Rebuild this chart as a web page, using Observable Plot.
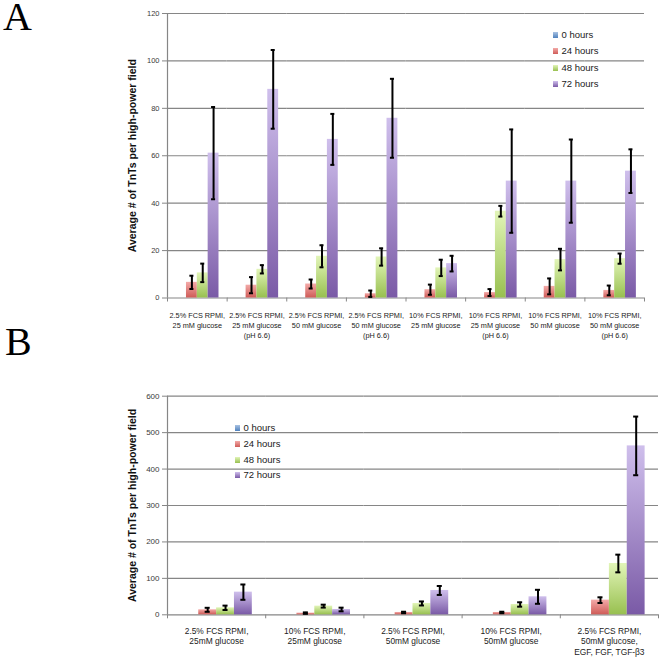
<!DOCTYPE html>
<html><head><meta charset="utf-8">
<script src="https://cdn.jsdelivr.net/npm/d3@7"></script>
<script src="https://cdn.jsdelivr.net/npm/@observablehq/plot@0.6"></script>
<style>
body{margin:0;background:#fff;font-family:"Liberation Sans",Arial,sans-serif}
#root{position:relative;width:662px;height:658px;overflow:hidden;background:#fff}
.panel{position:absolute;left:0}
.letter{position:absolute;z-index:5;font-family:"Liberation Serif","Times New Roman",serif;font-size:40px;line-height:30px;color:#000}
.legend{position:absolute;z-index:5;font-size:9.5px;color:#1a1a1a}
.legend .row{position:absolute;left:0;white-space:nowrap;height:12px;line-height:12px}
.legend .sw{position:absolute;left:0;top:3px;width:5px;height:6px}
.legend .lbl{position:absolute;left:8.5px;top:0}
</style></head><body>
<svg width="0" height="0" style="position:absolute">
  <defs>
    <linearGradient id="g0" x1="0" y1="0" x2="0" y2="1"><stop offset="0" stop-color="#a9c2e2"/><stop offset="1" stop-color="#4f81bd"/></linearGradient>
    <linearGradient id="g1" x1="0" y1="0" x2="0" y2="1"><stop offset="0" stop-color="#f3aaa8"/><stop offset="1" stop-color="#cf5c58"/></linearGradient>
    <linearGradient id="g2" x1="0" y1="0" x2="0" y2="1"><stop offset="0" stop-color="#e2f5b8"/><stop offset="1" stop-color="#98c050"/></linearGradient>
    <linearGradient id="g3" x1="0" y1="0" x2="0" y2="1"><stop offset="0" stop-color="#cfbfec"/><stop offset="1" stop-color="#7a5aa6"/></linearGradient>
  </defs>
</svg>
<div id="root">
  <div id="pA" class="panel" style="top:0"></div>
  <div id="pB" class="panel" style="top:345px"></div>
  <div class="letter" style="left:3px;top:1.5px">A</div>
  <div class="letter" style="left:5px;top:326.5px">B</div>
  <div id="legA" class="legend" style="left:553px;top:29px"></div>
  <div id="legB" class="legend" style="left:235px;top:422px"></div>
</div>
<script>
const series = ["0 hours", "24 hours", "48 hours", "72 hours"];
const yTitle = "Average # of TnTs per high-power field";

// Panel A
const categoriesA = [
  "2.5% FCS RPMI,\n25 mM glucose",
  "2.5% FCS RPMI,\n25 mM glucose\n(pH 6.6)",
  "2.5% FCS RPMI,\n50 mM glucose",
  "2.5% FCS RPMI,\n50 mM glucose\n(pH 6.6)",
  "10% FCS RPMI,\n25 mM glucose",
  "10% FCS RPMI,\n25 mM glucose\n(pH 6.6)",
  "10% FCS RPMI,\n50 mM glucose",
  "10% FCS RPMI,\n50 mM glucose\n(pH 6.6)"
];
const ticksA = [0, 20, 40, 60, 80, 100, 120];
const a0h  = [0, 0, 0, 0, 0, 0, 0, 0];
const a24h = [6.6, 5.4, 5.9, 1.8, 3.5, 2.3, 4.9, 3.2];
const a48h = [10.6, 12.1, 17.6, 17.3, 12.7, 36.6, 16.2, 16.6];
const a72h = [61.1, 88.0, 66.9, 75.8, 14.5, 49.3, 49.3, 53.5];
const a24e = [2.8, 3.4, 1.9, 1.35, 2.15, 1.45, 3.35, 2.05];
const a48e = [3.9, 1.75, 4.65, 3.65, 3.45, 2.25, 4.55, 2.15];
const a72e = [19.45, 16.6, 10.75, 16.65, 3.3, 21.8, 17.55, 9.2];

// Panel B
const categoriesB = [
  "2.5% FCS RPMI,\n25mM glucose",
  "10% FCS RPMI,\n25mM glucose",
  "2.5% FCS RPMI,\n50mM glucose",
  "10% FCS RPMI,\n50mM glucose",
  "2.5% FCS RPMI,\n50mM glucose,\nEGF, FGF, TGF-β3"
];
const ticksB = [0, 100, 200, 300, 400, 500, 600];
const b0h  = [0, 0, 0, 0, 0];
const b24h = [13.7, 4.6, 6.4, 6.4, 40.2];
const b48h = [19.2, 23.8, 31.1, 28.3, 140.8];
const b72h = [62.2, 14.6, 66.8, 49.4, 463.6];
const b24e = [5.5, 2, 2, 2, 7.8];
const b48e = [6, 4, 5.5, 6, 24.3];
const b72e = [21, 5, 12.3, 19.2, 80.5];

function table(cats, vals, errs) {
  const rows = [];
  cats.forEach((c, i) => series.forEach((s, k) => rows.push({cat: c, series: s, value: vals[k][i], err: errs[k] ? errs[k][i] : 0})));
  return rows;
}
const rowsA = table(categoriesA, [a0h, a24h, a48h, a72h], [null, a24e, a48e, a72e]);
const rowsB = table(categoriesB, [b0h, b24h, b48h, b72h], [null, b24e, b48e, b72e]);

const gridColor = "#868686";
const font = "'Liberation Sans', Arial, sans-serif";

function panel(cfg) {
  const {cats, rows, ticks, height, mt, mb, ml, mr, labelFont, labelDy, labelLH, tickFont, capInset} = cfg;
  const width = 662;
  const n = cats.length;
  const plotW = width - ml - mr;
  const plotH = height - mt - mb;
  const step = plotW / n;
  const gapFrac = 1.5 / 5.5;
  const gap = step * gapFrac;
  const bw = step - gap;
  const barW = bw / 4;
  const half = gap / 2;
  const first = () => cats[0];
  const errRows = rows.filter(d => d.err > 0);
  return Plot.plot({
    width, height,
    marginTop: mt, marginBottom: mb, marginLeft: ml, marginRight: mr,
    style: {fontFamily: font, background: "white", overflow: "visible"},
    fx: {domain: cats, paddingInner: gapFrac, paddingOuter: gapFrac / 2, round: false, axis: null},
    x: {domain: series, padding: 0, round: false, axis: null},
    y: {domain: [ticks[0], ticks[ticks.length - 1]], axis: null},
    color: {domain: series, range: series.map((s, i) => `url(#g${i})`)},
    marks: [
      // horizontal gridlines, extended across the gaps between category groups
      Plot.ruleY(ticks, {insetLeft: -half, insetRight: -half, stroke: gridColor, strokeWidth: 1.2}),
      // y axis: line, tick marks and tick labels (first category group only)
      Plot.ruleY(ticks, {fx: first, insetLeft: -half - 5, insetRight: bw + half, stroke: gridColor, strokeWidth: 1}),
      Plot.text(ticks, {fx: first, y: d => d, text: d => String(d), frameAnchor: "left", textAnchor: "end", dx: -half - 8, fontSize: tickFont, fill: "#3a3a3a"}),
      Plot.ruleX([cats[0]], {fx: d => d, x: () => series[0], dx: -(barW / 2 + half), stroke: gridColor, strokeWidth: 1.2}),
      // category boundary tick marks below the baseline
      Plot.ruleX(cats, {fx: d => d, x: () => series[0], dx: -(barW / 2 + half), insetTop: plotH, insetBottom: -4, stroke: gridColor}),
      Plot.ruleX([cats[n - 1]], {fx: d => d, x: () => series[3], dx: barW / 2 + half, insetTop: plotH, insetBottom: -4, stroke: gridColor}),
      // bars
      Plot.barY(rows, {fx: "cat", x: "series", y: "value", fill: "series"}),
      // error bars
      Plot.ruleX(errRows, {fx: "cat", x: "series", y1: d => d.value - d.err, y2: d => d.value + d.err, stroke: "#000", strokeWidth: 2}),
      Plot.tickY(errRows, {fx: "cat", x: "series", y: d => d.value - d.err, insetLeft: capInset, insetRight: capInset, stroke: "#000", strokeWidth: 2}),
      Plot.tickY(errRows, {fx: "cat", x: "series", y: d => d.value + d.err, insetLeft: capInset, insetRight: capInset, stroke: "#000", strokeWidth: 2}),
      // category labels
      Plot.text(cats, {fx: d => d, text: d => d, frameAnchor: "bottom", lineAnchor: "top", dy: labelDy, lineHeight: labelLH, fontSize: labelFont, fill: "#222"}),
      // y axis title
      Plot.text([yTitle], {fx: first, frameAnchor: "left", textAnchor: "middle", rotate: -90, dx: -35 - half, fontSize: 10.5, fontWeight: "bold", fill: "#111", text: d => d})
    ]
  });
}

document.getElementById("pA").append(panel({
  cats: categoriesA, rows: rowsA, ticks: ticksA,
  height: 345, mt: 13, mb: 47.5, ml: 167, mr: 18,
  labelFont: 7.3, labelDy: 12.3, labelLH: 1.42, tickFont: 7.5, capInset: 3.4
}));
document.getElementById("pB").append(panel({
  cats: categoriesB, rows: rowsB, ticks: ticksB,
  height: 313, mt: 50.7, mb: 43.7, ml: 167, mr: 4,
  labelFont: 8.4, labelDy: 11, labelLH: 1.3, tickFont: 8, capInset: 6.4
}));

function legend(id, spacing) {
  const el = document.getElementById(id);
  series.forEach((s, i) => {
    const row = document.createElement("div");
    row.className = "row";
    row.style.top = (i * spacing) + "px";
    const sw = document.createElement("span");
    sw.className = "sw";
    const grads = [["#a9c2e2", "#4f81bd"], ["#f3aaa8", "#cf5c58"], ["#e2f5b8", "#98c050"], ["#cfbfec", "#7a5aa6"]][i];
    sw.style.background = `linear-gradient(${grads[0]}, ${grads[1]})`;
    const lbl = document.createElement("span");
    lbl.className = "lbl";
    lbl.textContent = s;
    row.append(sw, lbl);
    el.append(row);
  });
}
legend("legA", 16.3);
legend("legB", 15.8);
</script>
</body></html>
